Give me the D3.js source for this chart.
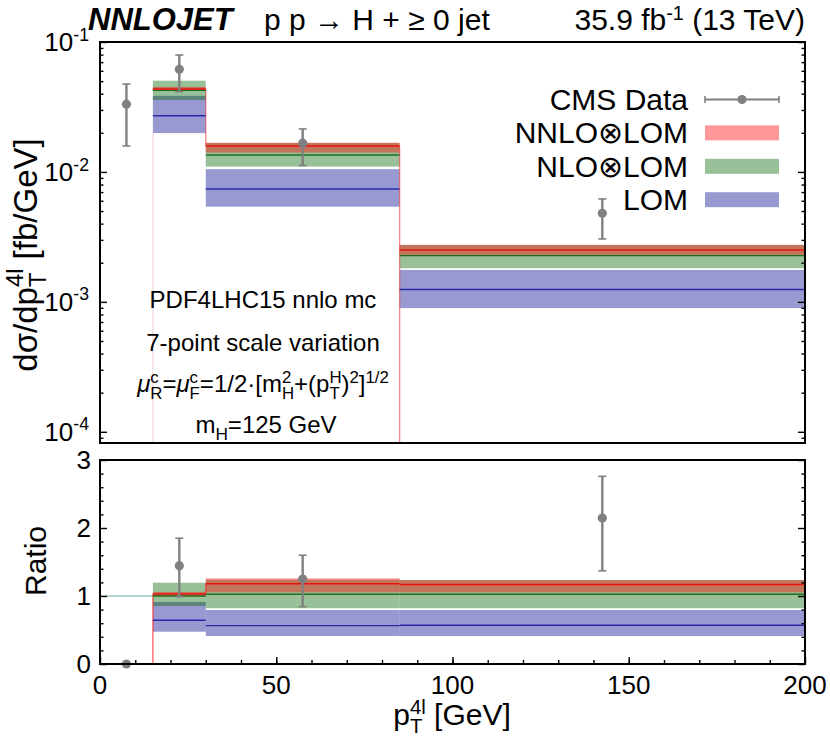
<!DOCTYPE html>
<html>
<head>
<meta charset="utf-8">
<script src="https://cdn.jsdelivr.net/npm/d3@7"></script>
<style>
body { margin: 0; background: #fff; }
text { font-family: "Liberation Sans", Arial, Helvetica, sans-serif; fill: #000; }
</style>
</head>
<body>
<script>
// bins with a prediction (GeV)
var binLo = [15, 30, 85];
var binHi = [30, 85, 200];

// upper panel, fb/GeV
var nnloMid = [0.0435, 0.01585, 0.00251];
var nnloDown = [0.0421, 0.01408, 0.0023];
var nnloUp = [0.0452, 0.0168, 0.002745];
var nloMid = [0.0424, 0.01351, 0.00227];
var nloDown = [0.0358, 0.01099, 0.001815];
var nloUp = [0.0504, 0.0167, 0.002745];
var loMid = [0.0271, 0.0074, 0.001245];
var loDown = [0.0199, 0.0054, 0.000895];
var loUp = [0.0385, 0.0105, 0.00176];

var dataX = [7.5, 22.5, 57.5, 142.5];
var dataVal = [0.0332, 0.0616, 0.01664, 0.00481];
var dataDown = [0.01585, 0.0415, 0.0112, 0.00305];
var dataUp = [0.0475, 0.0794, 0.02143, 0.0062];

// ratio panel
var rNnloMid = [1.03, 1.18, 1.17];
var rNnloDown = [1.0, 1.054, 1.054];
var rNnloUp = [1.06, 1.26, 1.235];
var rNloMid = [1.0, 1.025, 1.025];
var rNloDown = [0.853, 0.82, 0.82];
var rNloUp = [1.196, 1.24, 1.235];
var rLoMid = [0.643, 0.564, 0.57];
var rLoDown = [0.475, 0.412, 0.41];
var rLoUp = [0.912, 0.794, 0.794];

var rDataVal = [0, 1.446, 1.25, 2.147];
var rDataDown = [0, 0.99, 0.843, 1.37];
var rDataUp = [0, 1.85, 1.6, 2.76];

var xTicks = [0, 50, 100, 150, 200];
var yTopExp = [-4, -3, -2, -1];
var yRatioTicks = [0, 1, 2, 3];

var legendNames = ["NNLO\u2297LOM", "NLO\u2297LOM", "LOM"];

var fillRed = "rgba(255,0,0,0.4)";
var fillGreen = "rgba(0,100,0,0.4)";
var fillBlue = "rgba(0,0,139,0.4)";
var lineRed = "#e8140c";
var lineGreen = "#1f6e1f";
var lineBlue = "#2a2aa8";
var grey = "#808080";

var W = 830, H = 738;
var svg = d3.select("body").append("svg").attr("width", W).attr("height", H);

var x = d3.scaleLinear().domain([0, 200]).range([100, 805]);
var yTop = d3.scaleLog().domain([8.2e-5, 0.1]).range([443, 42]);
var yR = d3.scaleLinear().domain([0, 3]).range([664, 460]);

// text with sub/superscripts; stack:true puts a sup over the preceding sub
function rich(g, px, py, size, anchor, parts, supUp, small) {
  supUp = supUp || 0.42;
  small = small || 0.72;
  var t = g.append("text").attr("x", px).attr("y", py)
    .attr("text-anchor", anchor).style("font-size", size + "px");
  var cur = 0, lastLen = 0, pending = 0;
  parts.forEach(function(p) {
    var off = p.k === "sub" ? size * 0.28 : (p.k === "sup" ? -size * supUp : 0);
    var ts = t.append("tspan").text(p.t).attr("dy", off - cur);
    cur = off;
    if (p.k) ts.style("font-size", (size * small) + "px");
    if (p.it) ts.style("font-style", "italic");
    if (p.stack) {
      ts.attr("dx", -lastLen);
      var l = ts.node().getComputedTextLength();
      pending = Math.max(0, lastLen - l);
    } else if (pending > 0) {
      ts.attr("dx", pending);
      pending = 0;
    }
    lastLen = ts.node().getComputedTextLength();
  });
  return t;
}

// ---------- upper panel ----------
var upper = svg.append("g");

// faint edge of first predicted bin
upper.append("line")
  .attr("x1", x(binLo[0])).attr("x2", x(binLo[0]))
  .attr("y1", 443).attr("y2", yTop(loDown[0]))
  .attr("stroke", "rgba(215,150,170,0.45)").attr("stroke-width", 1);

function bands(g, ys, lo, hi, fill) {
  g.selectAll(null).data(binLo).enter().append("rect")
    .attr("x", function(d) { return x(d); })
    .attr("width", function(d, i) { return x(binHi[i]) - x(d); })
    .attr("y", function(d, i) { return ys(hi[i]); })
    .attr("height", function(d, i) { return ys(lo[i]) - ys(hi[i]); })
    .attr("fill", fill);
}
function mids(g, ys, mid, col, w) {
  g.selectAll(null).data(binLo).enter().append("line")
    .attr("x1", function(d) { return x(d); })
    .attr("x2", function(d, i) { return x(binHi[i]); })
    .attr("y1", function(d, i) { return ys(mid[i]); })
    .attr("y2", function(d, i) { return ys(mid[i]); })
    .attr("stroke", col).attr("stroke-width", w);
}

bands(upper, yTop, loDown, loUp, fillBlue);
bands(upper, yTop, nloDown, nloUp, fillGreen);
bands(upper, yTop, nnloDown, nnloUp, fillRed);

// NNLO step edges
upper.append("path")
  .attr("d", "M" + x(binHi[0]) + "," + yTop(nnloMid[0]) + "V" + yTop(nnloMid[1]) +
    "M" + x(binHi[1]) + "," + yTop(nnloMid[1]) + "V443")
  .attr("fill", "none").attr("stroke", "rgba(240,40,40,0.55)").attr("stroke-width", 1.3);

mids(upper, yTop, loMid, lineBlue, 1.4);
mids(upper, yTop, nloMid, lineGreen, 1.4);
mids(upper, yTop, nnloMid, lineRed, 1.6);

function dataPts(g, ys, v, dn, up) {
  dataX.forEach(function(d, i) {
    var s = g.append("g");
    if (up[i] > dn[i]) {
      s.append("line").attr("x1", x(d)).attr("x2", x(d))
        .attr("y1", ys(dn[i])).attr("y2", ys(up[i]))
        .attr("stroke", grey).attr("stroke-width", 2.4);
      [dn[i], up[i]].forEach(function(e) {
        s.append("line").attr("x1", x(d) - 4).attr("x2", x(d) + 4)
          .attr("y1", ys(e)).attr("y2", ys(e))
          .attr("stroke", grey).attr("stroke-width", 1.6);
      });
    }
    s.append("circle").attr("cx", x(d)).attr("cy", ys(v[i]))
      .attr("r", 4.6).attr("fill", grey);
  });
}
dataPts(upper, yTop, dataVal, dataDown, dataUp);

// frame + ticks
upper.append("rect").attr("x", 100).attr("y", 42).attr("width", 705).attr("height", 401)
  .attr("fill", "none").attr("stroke", "#000").attr("stroke-width", 2);

var minorTop = [];
d3.range(-5, -1).forEach(function(e) {
  d3.range(2, 10).forEach(function(m) {
    var v = m * Math.pow(10, e);
    if (v > 8.2e-5 && v < 0.1) minorTop.push(v);
  });
});
var majorTop = yTopExp.map(function(e) { return Math.pow(10, e); });

function yTicks(g, ys, majors, minors) {
  g.append("g").attr("transform", "translate(100,0)")
    .call(d3.axisLeft(ys).tickValues(minors).tickSize(-3.5).tickFormat(""));
  g.append("g").attr("transform", "translate(100,0)")
    .call(d3.axisLeft(ys).tickValues(majors).tickSize(-7).tickFormat(""));
  g.append("g").attr("transform", "translate(805,0)")
    .call(d3.axisRight(ys).tickValues(minors).tickSize(-3.5).tickFormat(""));
  g.append("g").attr("transform", "translate(805,0)")
    .call(d3.axisRight(ys).tickValues(majors).tickSize(-7).tickFormat(""));
  g.selectAll(".domain").remove();
  g.selectAll(".tick line").attr("stroke", "#000").attr("stroke-width", 1.4);
}
var tt = upper.append("g");
yTicks(tt, yTop, majorTop, minorTop);

yTopExp.forEach(function(e) {
  rich(upper, 89, yTop(Math.pow(10, e)) + 9, 26, "end",
    [{ t: "10" }, { t: String(e), k: "sup" }], 0.4, 0.68);
});

var yl = upper.append("g").attr("transform", "translate(37,255) rotate(-90)");
rich(yl, 0, 0, 33, "middle",
  [{ t: "d\u03c3/dp" }, { t: "T", k: "sub" }, { t: "4l", k: "sup", stack: true }, { t: " [fb/GeV]" }]);

// annotations
var noteX = 263;
rich(upper, noteX, 308, 24, "middle", [{ t: "PDF4LHC15 nnlo mc" }]);
rich(upper, noteX, 351, 24, "middle", [{ t: "7-point scale variation" }]);
rich(upper, noteX, 392, 24, "middle", [
  { t: "\u03bc", it: true }, { t: "R", k: "sub" }, { t: "c", k: "sup", stack: true },
  { t: "=" }, { t: "\u03bc", it: true }, { t: "F", k: "sub" }, { t: "c", k: "sup", stack: true },
  { t: "=1/2\u00b7[m" }, { t: "H", k: "sub" }, { t: "2", k: "sup", stack: true },
  { t: "+(p" }, { t: "T", k: "sub" }, { t: "H", k: "sup", stack: true },
  { t: ")" }, { t: "2", k: "sup" }, { t: "]" }, { t: "1/2", k: "sup" }], 0.38, 0.7);
rich(upper, noteX + 3, 433, 24, "middle", [{ t: "m" }, { t: "H", k: "sub" }, { t: "=125 GeV" }]);

// legend
var leg = upper.append("g");
var legY0 = 99.5, legDy = 33.4;
rich(leg, 688, legY0 + 10.5, 30, "end", [{ t: "CMS Data" }]);
leg.append("line").attr("x1", 705).attr("x2", 779).attr("y1", legY0).attr("y2", legY0)
  .attr("stroke", grey).attr("stroke-width", 2);
[705, 779].forEach(function(cx) {
  leg.append("line").attr("x1", cx).attr("x2", cx).attr("y1", legY0 - 3.5).attr("y2", legY0 + 3.5)
    .attr("stroke", grey).attr("stroke-width", 1.6);
});
leg.append("circle").attr("cx", 742).attr("cy", legY0).attr("r", 4.6).attr("fill", grey);
[fillRed, fillGreen, fillBlue].forEach(function(f, i) {
  var cy = legY0 + legDy * (i + 1);
  rich(leg, 688, cy + 10.5, 30, "end", [{ t: legendNames[i] }]);
  leg.append("rect").attr("x", 705).attr("y", cy - 7.5).attr("width", 74).attr("height", 15).attr("fill", f);
});

// header
rich(svg, 88, 30, 31, "start", [{ t: "NNLOJET" }]).style("font-weight", "bold").style("font-style", "italic");
rich(svg, 264, 30, 30, "start", [{ t: "p p \u2192 H + \u2265 0 jet" }]);
rich(svg, 805, 30, 30, "end", [{ t: "35.9 fb" }, { t: "-1", k: "sup" }, { t: " (13 TeV)" }], 0.34, 0.66);

// ---------- ratio panel ----------
var rp = svg.append("g");
rp.append("line").attr("x1", x(0)).attr("x2", x(binLo[0])).attr("y1", yR(1)).attr("y2", yR(1))
  .attr("stroke", "#6aa9a9").attr("stroke-width", 1.2);

bands(rp, yR, rLoDown, rLoUp, fillBlue);
bands(rp, yR, rNloDown, rNloUp, fillGreen);
bands(rp, yR, rNnloDown, rNnloUp, fillRed);

rp.append("path")
  .attr("d", "M" + x(binLo[0]) + "," + yR(0) + "V" + yR(rNnloMid[0]) +
    "M" + x(binHi[0]) + "," + yR(rNnloMid[0]) + "V" + yR(rNnloMid[1]) +
    "M" + x(binHi[1]) + "," + yR(rNnloMid[1]) + "V" + yR(rNnloMid[2]))
  .attr("fill", "none").attr("stroke", "rgba(255,40,40,0.6)").attr("stroke-width", 1.6);

mids(rp, yR, rLoMid, lineBlue, 1.4);
mids(rp, yR, rNloMid, lineGreen, 1.4);
mids(rp, yR, rNnloMid, lineRed, 1.6);

dataPts(rp, yR, rDataVal, rDataDown, rDataUp);

rp.append("rect").attr("x", 100).attr("y", 460).attr("width", 705).attr("height", 204)
  .attr("fill", "none").attr("stroke", "#000").attr("stroke-width", 2);

var rt = rp.append("g");
yTicks(rt, yR, yRatioTicks, d3.range(0.2, 3, 0.2).filter(function(v) { return Math.abs(v - Math.round(v)) > 0.01; }));

var xt = rp.append("g").attr("transform", "translate(0,664)");
xt.append("g").call(d3.axisBottom(x).tickValues(d3.range(10, 200, 10)).tickSize(-4).tickFormat(""));
xt.append("g").call(d3.axisBottom(x).tickValues(xTicks).tickSize(-7).tickFormat(""));
xt.selectAll(".domain").remove();
xt.selectAll(".tick line").attr("stroke", "#000").attr("stroke-width", 1.4);

yRatioTicks.forEach(function(v) {
  rich(rp, 91, yR(v) + 9, 26, "end", [{ t: String(v) }]);
});
xTicks.forEach(function(v) {
  rich(rp, x(v), 694, 26, "middle", [{ t: String(v) }]);
});

var rl = rp.append("g").attr("transform", "translate(46,561) rotate(-90)");
rich(rl, 0, 0, 30, "middle", [{ t: "Ratio" }]);

rich(rp, 452, 725, 30, "middle",
  [{ t: "p" }, { t: "T", k: "sub" }, { t: "4l", k: "sup", stack: true }, { t: " [GeV]" }], 0.38, 0.68);
</script>
</body>
</html>
